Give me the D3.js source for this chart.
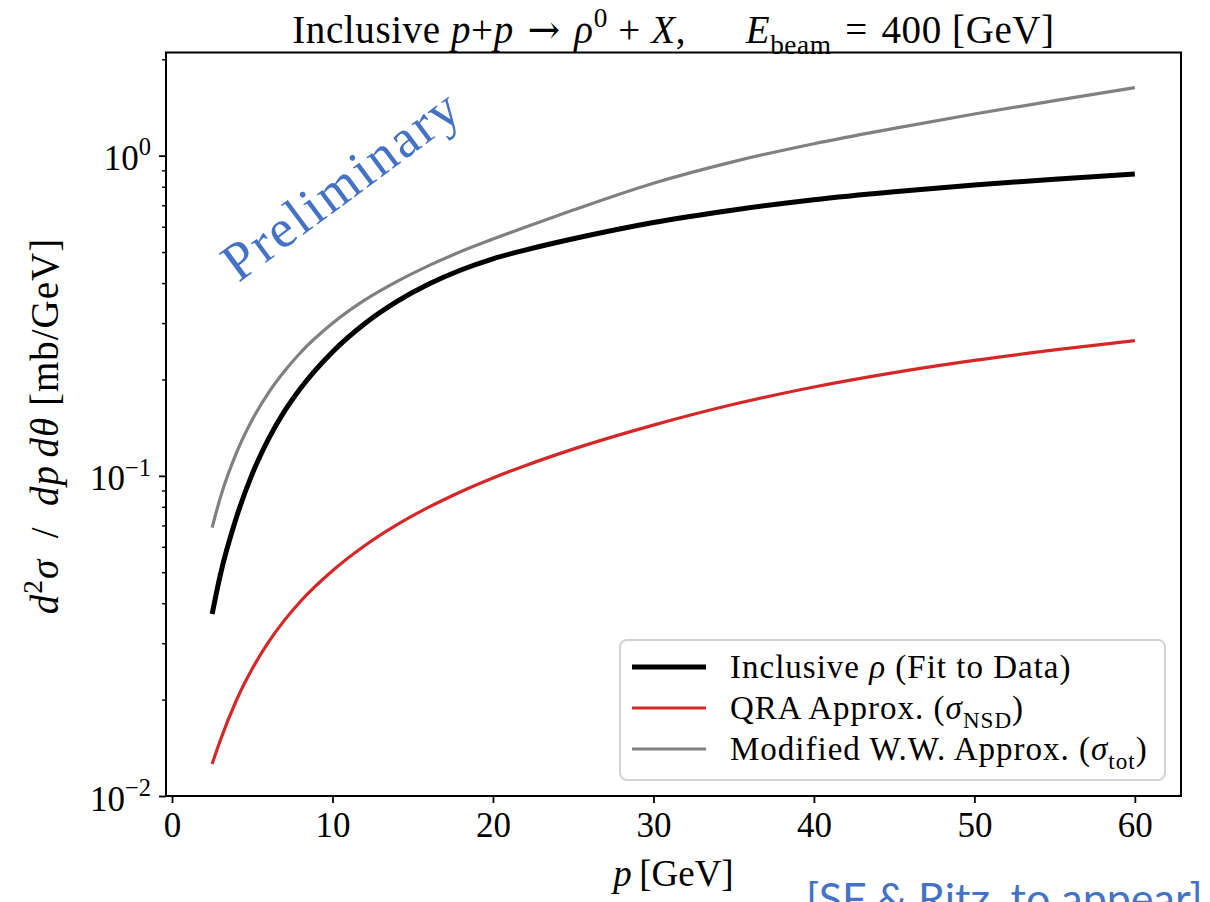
<!DOCTYPE html>
<html>
<head>
<meta charset="utf-8">
<script src="https://cdn.jsdelivr.net/npm/d3@7"></script>
<style>
  html, body { margin: 0; padding: 0; background: #fff; overflow: hidden; }
  svg { display: block; }
  text { font-family: "Liberation Serif", "DejaVu Serif", serif; fill: #000; }
</style>
</head>
<body>
<svg id="chart" width="1210" height="902"></svg>
<script>
// Momentum grid (GeV) shared by all three curves
const momentum = [2.5, 3, 4, 5, 6, 7, 8, 10, 12, 14, 16, 18, 20, 22, 25, 30, 35, 40, 45, 50, 55, 60];

// d^2 sigma / dp dtheta in mb/GeV
const inclusiveFit = [0.0370, 0.0488, 0.0738, 0.1014, 0.1300, 0.1589, 0.1875, 0.2438, 0.2985, 0.3499, 0.3972,
                      0.4395, 0.4764, 0.5070, 0.5500, 0.6185, 0.6767, 0.7286, 0.7716, 0.8099, 0.8442, 0.8768];
const qraApprox    = [0.01259, 0.01488, 0.01984, 0.02497, 0.03017, 0.03536, 0.04050, 0.05051, 0.06045, 0.07023, 0.07981,
                      0.08922, 0.09847, 0.10757, 0.12119, 0.14400, 0.16725, 0.18941, 0.21006, 0.22929, 0.24729, 0.26443];
const wwApprox     = [0.0689, 0.0852, 0.1176, 0.1498, 0.1813, 0.2121, 0.2424, 0.2995, 0.3536, 0.4041, 0.4534,
                      0.5018, 0.5489, 0.5977, 0.6760, 0.8202, 0.9581, 1.0899, 1.2170, 1.3490, 1.4859, 1.6309];

const xTicks = [0, 10, 20, 30, 40, 50, 60];
const yMajorTicks = [0.01, 0.1, 1];
const yTickExponents = ["\u22122", "\u22121", "0"];

const svg = d3.select("#chart");
const plot = { left: 166, right: 1181, top: 52.5, bottom: 796 };

const x = d3.scaleLinear().domain([-0.375, 62.875]).range([plot.left, plot.right]);
const y = d3.scaleLog().domain([0.01, 2.1]).range([plot.bottom, plot.top]);

// Rich text helper: segments with italic / superscript / subscript / font override
function rich(sel, parts, size) {
  let shift = 0;
  parts.forEach(p => {
    const ts = sel.append("tspan").text(p.t);
    const target = p.sup ? -0.42 * size : p.sub ? 0.28 * size : 0;
    if (target !== shift) ts.attr("dy", target - shift);
    shift = target;
    if (p.sup || p.sub) ts.attr("font-size", size * 0.7);
    if (p.i) ts.attr("font-style", "italic");
    if (p.f) ts.style("font-family", p.f);
  });
}

// Curves
const curves = [
  { values: inclusiveFit, color: "#000000", width: 5 },
  { values: qraApprox,    color: "#d62728", width: 3.2 },
  { values: wwApprox,     color: "#808080", width: 3.2 }
];
const line = d3.line().curve(d3.curveMonotoneX);
svg.append("clipPath").attr("id", "plotclip").append("rect")
  .attr("x", plot.left).attr("y", plot.top)
  .attr("width", plot.right - plot.left).attr("height", plot.bottom - plot.top);

const gLines = svg.append("g").attr("clip-path", "url(#plotclip)");
gLines.selectAll("path").data(curves).join("path")
  .attr("d", c => line(momentum.map((p, i) => [x(p), y(c.values[i])])))
  .attr("fill", "none")
  .attr("stroke", c => c.color)
  .attr("stroke-width", c => c.width)
  .attr("stroke-linecap", "butt");

// Watermark
svg.append("text")
  .attr("transform", "translate(352,199) rotate(-36.5)")
  .attr("text-anchor", "middle")
  .attr("font-size", 54)
  .attr("letter-spacing", 2.5)
  .style("font-family", "'Liberation Serif', serif")
  .style("fill", "#4472c4")
  .text("Preliminary");

// X axis
const xAxis = d3.axisBottom(x).tickValues(xTicks).tickSize(7).tickPadding(8).tickFormat(d3.format("d"));
const gx = svg.append("g").attr("transform", `translate(0,${plot.bottom})`).call(xAxis);
gx.select(".domain").remove();
gx.selectAll(".tick line").attr("stroke", "#000").attr("stroke-width", 1.8);
gx.selectAll(".tick text").attr("font-size", 35).attr("dy", "0.75em")
  .style("font-family", "'Liberation Serif', serif");

// Y axis: minor ticks
const yMinor = [];
for (let e = -2; e <= 0; e++) for (let m = 2; m <= 9; m++) {
  const v = m * Math.pow(10, e);
  if (v <= 2.1) yMinor.push(v);
}
const gyMinor = svg.append("g").attr("transform", `translate(${plot.left},0)`)
  .call(d3.axisLeft(y).tickValues(yMinor).tickSize(4).tickFormat(""));
gyMinor.select(".domain").remove();
gyMinor.selectAll(".tick line").attr("stroke", "#000").attr("stroke-width", 1.4);

const gy = svg.append("g").attr("transform", `translate(${plot.left},0)`)
  .call(d3.axisLeft(y).tickValues(yMajorTicks).tickSize(7).tickFormat(""));
gy.select(".domain").remove();
gy.selectAll(".tick line").attr("stroke", "#000").attr("stroke-width", 1.8);
gy.selectAll(".tick").each(function(d, i) {
  const t = d3.select(this).append("text")
    .attr("x", -15).attr("y", 14)
    .attr("text-anchor", "end")
    .attr("font-size", 35);
  rich(t, [{ t: "10" }, { t: yTickExponents[i], sup: true }], 35);
});

// Frame
svg.append("rect")
  .attr("x", plot.left).attr("y", plot.top)
  .attr("width", plot.right - plot.left).attr("height", plot.bottom - plot.top)
  .attr("fill", "none").attr("stroke", "#000").attr("stroke-width", 2);

// Title (math spacing via thin unicode spaces)
const title = svg.append("text")
  .attr("x", (plot.left + plot.right) / 2).attr("y", 43)
  .attr("text-anchor", "middle").attr("font-size", 39)
  .attr("letter-spacing", 0.6)
  .attr("xml:space", "preserve");
rich(title, [
  { t: "Inclusive " }, { t: "p", i: true }, { t: "+" }, { t: "p", i: true }, { t: "\u2004" },
  { t: "\u2192", f: "'DejaVu Serif', serif" }, { t: "\u2004" },
  { t: "\u03c1", i: true }, { t: "0", sup: true }, { t: "\u2005+\u2005" }, { t: "X", i: true }, { t: ",\u2003\u2002" },
  { t: "E", i: true }, { t: "beam", sub: true }, { t: "\u2004=\u2004400 [GeV]" }
], 39);

// Axis labels
const xl = svg.append("text")
  .attr("x", (plot.left + plot.right) / 2).attr("y", 886)
  .attr("text-anchor", "middle").attr("font-size", 37);
rich(xl, [{ t: "p", i: true }, { t: "\u2009[GeV]" }], 37);

const yl = svg.append("text")
  .attr("transform", "translate(58,426) rotate(-90)")
  .attr("text-anchor", "middle").attr("font-size", 39)
  .attr("letter-spacing", 1);
rich(yl, [
  { t: "d", i: true }, { t: "2", sup: true }, { t: "\u03c3", i: true }, { t: "\u2002/\u2002" },
  { t: "dp", i: true }, { t: "\u2006" }, { t: "d\u03b8", i: true }, { t: "\u2005[mb/GeV]" }
], 39);

// Legend
const legendItems = [
  { idx: 0, parts: [{ t: "Inclusive " }, { t: "\u03c1", i: true }, { t: " (Fit to Data)" }] },
  { idx: 1, parts: [{ t: "QRA Approx. (" }, { t: "\u03c3", i: true }, { t: "NSD", sub: true }, { t: ")" }] },
  { idx: 2, parts: [{ t: "Modified W.W. Approx. (" }, { t: "\u03c3", i: true }, { t: "tot", sub: true }, { t: ")" }] }
];
const lg = svg.append("g");
lg.append("rect")
  .attr("x", 620).attr("y", 640).attr("width", 545).attr("height", 140)
  .attr("rx", 7).attr("ry", 7)
  .attr("fill", "#fff").attr("fill-opacity", 0.85)
  .attr("stroke", "#d3d3d3").attr("stroke-width", 2);
legendItems.forEach((it, k) => {
  const cy = 667 + k * 41;
  const c = curves[it.idx];
  lg.append("line")
    .attr("x1", 632).attr("x2", 706).attr("y1", cy).attr("y2", cy)
    .attr("stroke", c.color).attr("stroke-width", c.width);
  const t = lg.append("text").attr("x", 730).attr("y", cy + 11)
    .attr("font-size", 33).attr("letter-spacing", 1)
    .style("font-family", "'Liberation Serif', serif");
  rich(t, it.parts, 33);
});

// Citation note
svg.append("text")
  .attr("x", 806).attr("y", 914)
  .attr("font-size", 43)
  .style("font-family", "Lato, 'Open Sans', sans-serif")
  .style("fill", "#4472c4")
  .text("[SF & Ritz, to appear]");
</script>
</body>
</html>
